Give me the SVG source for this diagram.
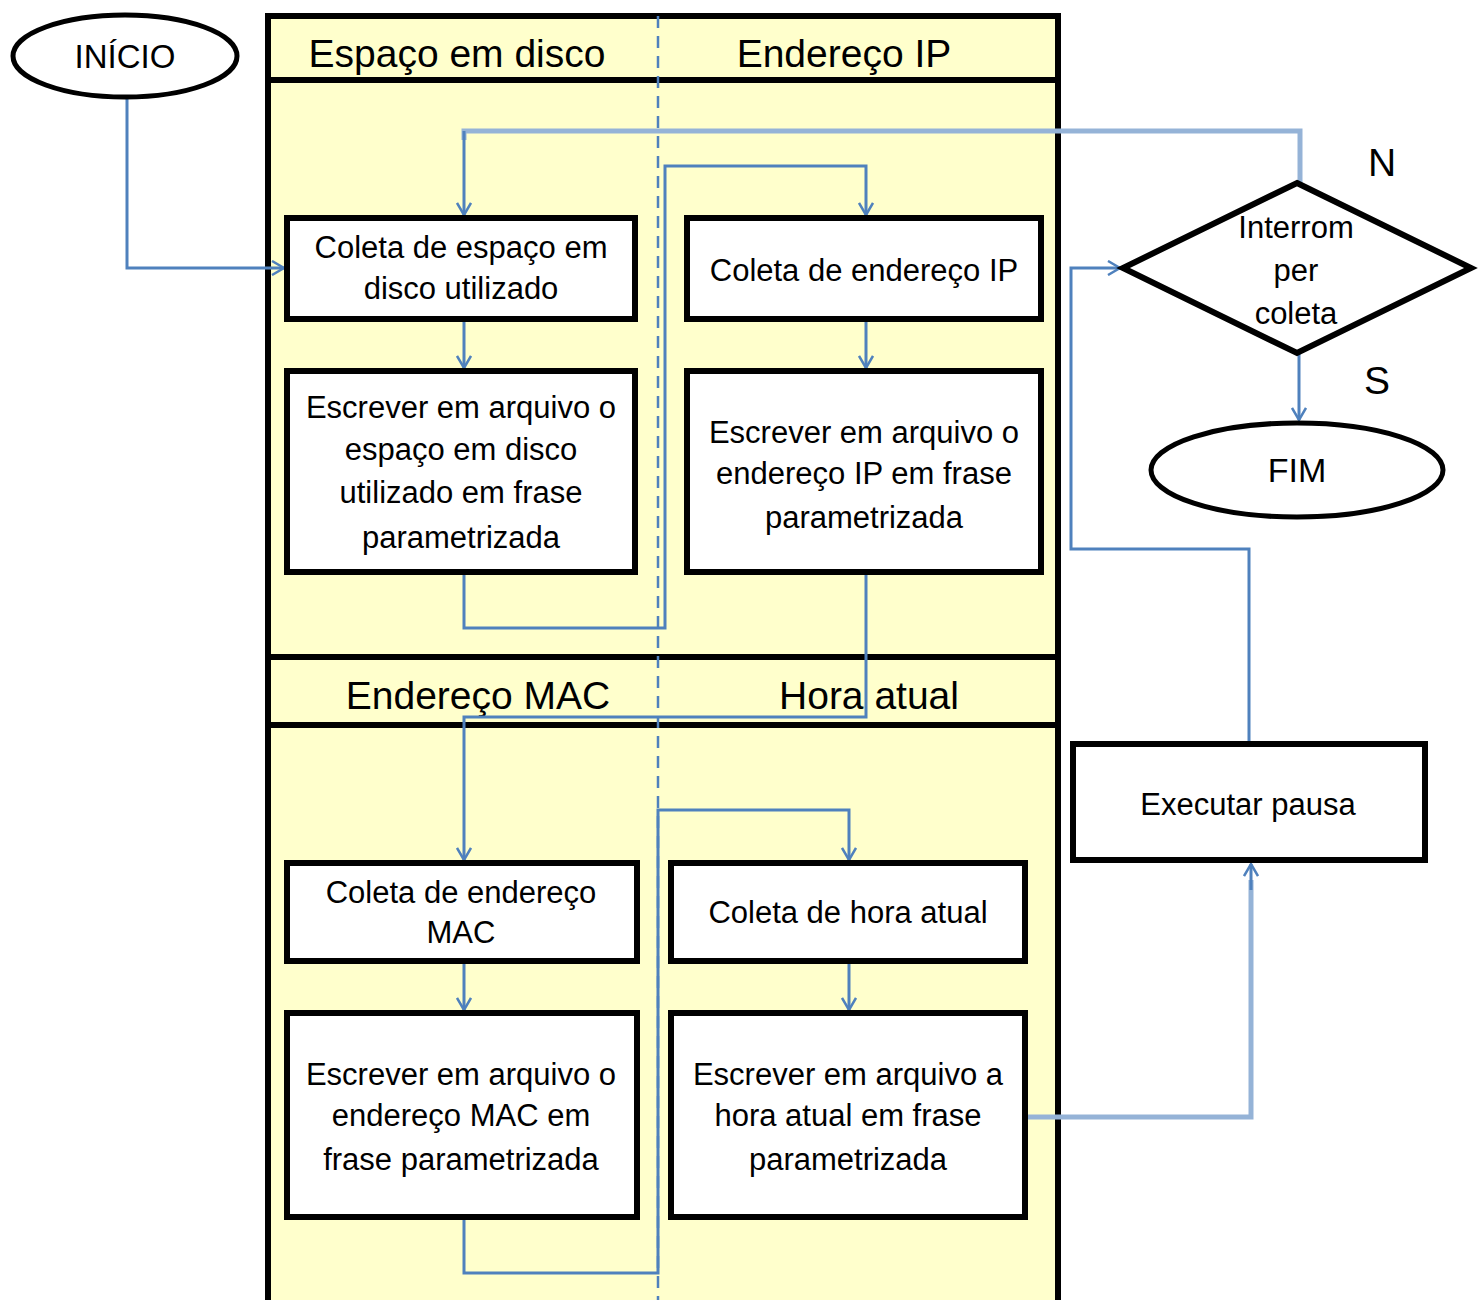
<svg xmlns="http://www.w3.org/2000/svg" width="1480" height="1300" viewBox="0 0 1480 1300">
<defs>
<style>
.t{font-family:"Liberation Sans",Arial,sans-serif;font-size:31px;fill:#000;text-anchor:middle}
.h{font-family:"Liberation Sans",Arial,sans-serif;font-size:39px;fill:#000;text-anchor:middle}
.box{fill:#fff;stroke:#000;stroke-width:6}
.c{fill:none;stroke:#4F81BD;stroke-width:3}
.cl{fill:none;stroke:#95B3D7;stroke-width:5}
</style>
<marker id="arr" markerUnits="userSpaceOnUse" markerWidth="16" markerHeight="16" viewBox="0 0 16 16" refX="14" refY="8" orient="auto">
<path d="M2,1 L14,8 L2,15" fill="none" stroke="#4F81BD" stroke-width="2.5"/>
</marker>
</defs>
<rect width="1480" height="1300" fill="#fff"/>
<g id="pool">
<rect x="268" y="16" width="790" height="1300" fill="#FFFFCC" stroke="#000" stroke-width="6"/>
<line x1="268" y1="80" x2="1058" y2="80" stroke="#000" stroke-width="6"/>
<line x1="268" y1="657" x2="1058" y2="657" stroke="#000" stroke-width="6"/>
<line x1="268" y1="725" x2="1058" y2="725" stroke="#000" stroke-width="6"/>
<line x1="658" y1="16" x2="658" y2="1300" stroke="#4F81BD" stroke-width="2.5" stroke-dasharray="12,8"/>
<text class="h" x="457" y="67">Espaço em disco</text>
<text class="h" x="844" y="67">Endereço IP</text>
<text class="h" x="478" y="709">Endereço MAC</text>
<text class="h" x="869" y="709">Hora atual</text>
</g>
<g id="connectors">
<polyline class="c" points="127,98 127,268 284,268" marker-end="url(#arr)"/>
<polyline class="cl" points="1300,183 1300,131 464,131 464,140"/>
<polyline class="c" points="464,131 464,215" marker-end="url(#arr)"/>
<polyline class="c" points="464,321 464,368" marker-end="url(#arr)"/>
<polyline class="c" points="464,574 464,628 665,628 665,166 866,166 866,215" marker-end="url(#arr)"/>
<polyline class="c" points="866,321 866,368" marker-end="url(#arr)"/>
<polyline class="c" points="866,574 866,717 464,717 464,860" marker-end="url(#arr)"/>
<polyline class="c" points="464,964 464,1010" marker-end="url(#arr)"/>
<polyline class="c" points="464,1220 464,1273 658,1273 658,810 849,810 849,860" marker-end="url(#arr)"/>
<polyline class="c" points="849,964 849,1010" marker-end="url(#arr)"/>
<polyline class="cl" points="1028,1117 1251,1117 1251,880"/>
<polyline class="c" points="1251,890 1251,864" marker-end="url(#arr)"/>
<polyline class="c" points="1249,741 1249,549 1071,549 1071,268 1120,268" marker-end="url(#arr)"/>
<polyline class="c" points="1299,353 1299,420" marker-end="url(#arr)"/>
</g>
<g id="inicio">
<ellipse cx="125" cy="56" rx="112" ry="41" fill="#fff" stroke="#000" stroke-width="5"/>
<text class="t" x="125" y="68" style="font-size:33px">INÍCIO</text>
</g>
<g id="coleta-espaco">
<rect class="box" x="287" y="218" width="348" height="101"/>
<text class="t" x="461" y="258">Coleta de espaço em</text>
<text class="t" x="461" y="299">disco utilizado</text>
</g>
<g id="escrever-espaco">
<rect class="box" x="287" y="371" width="348" height="201"/>
<text class="t" x="461" y="418">Escrever em arquivo o</text>
<text class="t" x="461" y="460">espaço em disco</text>
<text class="t" x="461" y="503">utilizado em frase</text>
<text class="t" x="461" y="548">parametrizada</text>
</g>
<g id="coleta-ip">
<rect class="box" x="687" y="218" width="354" height="101"/>
<text class="t" x="864" y="281">Coleta de endereço IP</text>
</g>
<g id="escrever-ip">
<rect class="box" x="687" y="371" width="354" height="201"/>
<text class="t" x="864" y="443">Escrever em arquivo o</text>
<text class="t" x="864" y="484">endereço IP em frase</text>
<text class="t" x="864" y="528">parametrizada</text>
</g>
<g id="coleta-mac">
<rect class="box" x="287" y="863" width="350" height="98"/>
<text class="t" x="461" y="903">Coleta de endereço</text>
<text class="t" x="461" y="943">MAC</text>
</g>
<g id="escrever-mac">
<rect class="box" x="287" y="1013" width="350" height="204"/>
<text class="t" x="461" y="1085">Escrever em arquivo o</text>
<text class="t" x="461" y="1126">endereço MAC em</text>
<text class="t" x="461" y="1170">frase parametrizada</text>
</g>
<g id="coleta-hora">
<rect class="box" x="671" y="863" width="354" height="98"/>
<text class="t" x="848" y="923">Coleta de hora atual</text>
</g>
<g id="escrever-hora">
<rect class="box" x="671" y="1013" width="354" height="204"/>
<text class="t" x="848" y="1085">Escrever em arquivo a</text>
<text class="t" x="848" y="1126">hora atual em frase</text>
<text class="t" x="848" y="1170">parametrizada</text>
</g>
<g id="executar-pausa">
<rect class="box" x="1073" y="744" width="352" height="116"/>
<text class="t" x="1248" y="815">Executar pausa</text>
</g>
<g id="decisao">
<polygon points="1297,183 1471,268 1297,353 1123,268" fill="#fff" stroke="#000" stroke-width="6"/>
<text class="t" x="1296" y="238">Interrom</text>
<text class="t" x="1296" y="281">per</text>
<text class="t" x="1296" y="324">coleta</text>
<text class="h" x="1382" y="176">N</text>
<text class="h" x="1377" y="394">S</text>
</g>
<g id="fim">
<ellipse cx="1297" cy="470" rx="146" ry="47" fill="#fff" stroke="#000" stroke-width="5"/>
<text class="t" x="1297" y="482" style="font-size:34px">FIM</text>
</g>
</svg>
